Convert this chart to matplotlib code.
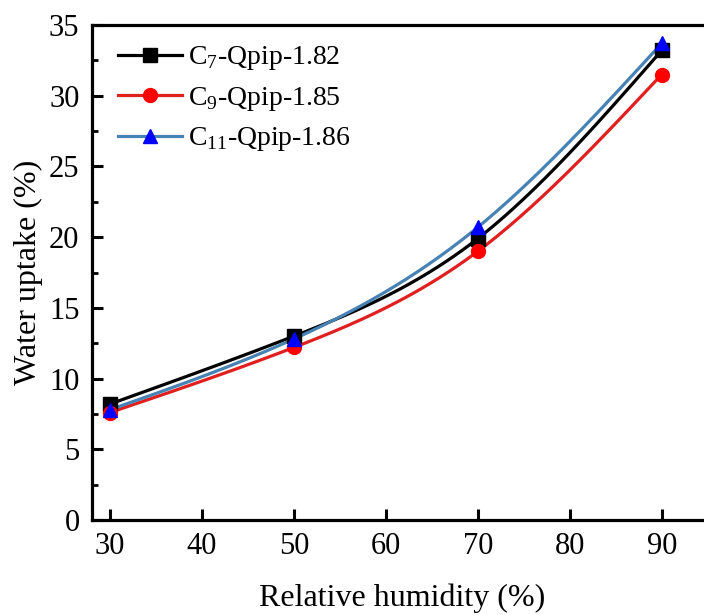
import numpy as np
import matplotlib
matplotlib.use("Agg")
import matplotlib.pyplot as plt

plt.rcParams['font.family'] = ['Liberation Serif', 'DejaVu Serif']
plt.rcParams['mathtext.fontset'] = 'custom'
plt.rcParams['mathtext.rm'] = 'Liberation Serif'

# data
rh = [30, 50, 70, 90]
c7 = [8.2, 13.0, 19.9, 33.2]
c9 = [7.6, 12.2, 19.0, 31.5]
c11 = [7.8, 12.8, 20.7, 33.7]
labels = ['C$_{7}$-Qpip-1.82', 'C$_{9}$-Qpip-1.85', 'C$_{11}$-Qpip-1.86']


def spline(x, y, n=200):
    # natural cubic spline, only used to draw the smooth connecting curve
    x = np.asarray(x, float)
    y = np.asarray(y, float)
    k = len(x)
    h = np.diff(x)
    A = np.zeros((k, k))
    b = np.zeros(k)
    A[0, 0] = A[-1, -1] = 1
    for i in range(1, k - 1):
        A[i, i - 1] = h[i - 1]
        A[i, i] = 2 * (h[i - 1] + h[i])
        A[i, i + 1] = h[i]
        b[i] = 6 * ((y[i + 1] - y[i]) / h[i] - (y[i] - y[i - 1]) / h[i - 1])
    m = np.linalg.solve(A, b)
    xs = np.linspace(x[0], x[-1], n)
    idx = np.clip(np.searchsorted(x, xs) - 1, 0, k - 2)
    t = xs - x[idx]
    hi = h[idx]
    a = y[idx]
    bb = (y[idx + 1] - y[idx]) / hi - hi * (2 * m[idx] + m[idx + 1]) / 6
    c = m[idx] / 2
    d = (m[idx + 1] - m[idx]) / (6 * hi)
    return xs, a + bb * t + c * t**2 + d * t**3


fig = plt.figure(figsize=(7.04, 6.15), dpi=100)
# the right spine sits just past the figure edge, as in the reference
ax = fig.add_axes([92 / 704, 1 - 520 / 615, 620 / 704, 495 / 615])

series = [
    (c7, 'black', 'black', 's'),
    (c9, '#e01f1f', '#ff0000', 'o'),
    (c11, '#4682b4', '#0000ff', '^'),
]
for (vals, lc, mc, mk), lab in zip(series, labels):
    xs, ys = spline(rh, vals)
    ax.plot(xs, ys, color=lc, lw=2.3, zorder=2)
    ax.plot(rh, vals, ls='none', marker=mk, color=mc, ms=10, zorder=3)
    ax.plot([], [], color=lc, lw=2.3, marker=mk, mfc=mc, mec=mc, ms=10, label=lab)

ax.set_xlim(28.04, 95.47)
ax.set_ylim(0, 35)
ax.set_xticks([30, 40, 50, 60, 70, 80, 90])
ax.set_yticks(np.arange(0, 36, 5))
ax.set_yticks(np.arange(2.5, 35, 5), minor=True)
ax.tick_params(axis='both', which='major', direction='in', length=8, width=2.2,
               labelsize=22, pad=9)
ax.tick_params(axis='y', which='minor', direction='in', length=4, width=2.0)
for s in ax.spines.values():
    s.set_linewidth(2.3)

ax.set_xlabel('Relative humidity (%)', fontsize=23, labelpad=16)
ax.set_ylabel('Water uptake (%)', fontsize=23, labelpad=4)

leg = ax.legend(loc='upper left', frameon=False, fontsize=20, handlelength=2.3,
                handletextpad=0.25, labelspacing=0.45, borderaxespad=0.3,
                bbox_to_anchor=(0.01, 1.0))

fig.savefig('out.png', dpi=100)
